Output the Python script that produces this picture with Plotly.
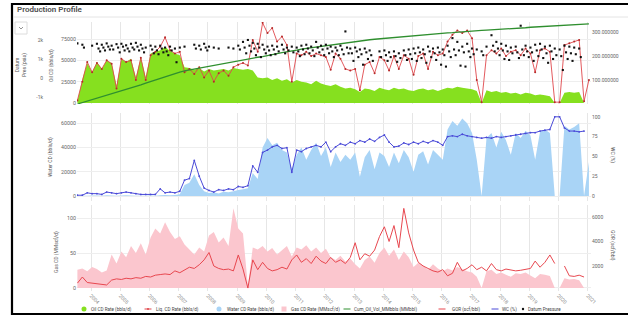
import pandas as pd
import plotly.graph_objects as go

W, H = 628, 316

# ---------------- data (2-monthly samples) ----------------
dates = pd.date_range("2003-07-01", periods=106, freq="2MS") + pd.Timedelta(days=14)

oil = [2000, 28000, 47000, 36000, 48000, 40000, 50000, 47000, 20000, 52000,
       48000, 52000, 30000, 54000, 30000, 58000, 60000, 62000, 66000, 61000,
       58000, 56000, 42000, 41000, 39000, 41000, 37000, 40000, 38000, 39000,
       40000, 38000, 41000, 40000, 39000, 40000, 38000, 30000, 29000, 30000,
       27000, 29000, 26000, 28000, 24000, 27000, 25000, 24000, 22000, 26000,
       23000, 21000, 20000, 22000, 19000, 17000, 18000, 16000, 13000, 17000,
       16000, 14000, 18000, 16000, 15000, 18000, 16000, 17000, 15000, 14000,
       16000, 17000, 15000, 16000, 14000, 16000, 18000, 17000, 19000, 18000,
       17000, 16000, 14000, 0, 15000, 13000, 14000, 12000, 13000, 11000,
       12000, 10000, 12000, 11000, 9000, 10000, 9000, 8000, 0, 0,
       12000, 13000, 12000, 13000, 0, 0]

liq = [3000, 25000, 48000, 36000, 47000, 40000, 50000, 46000, 17000, 52000,
       48000, 50000, 27000, 53000, 27000, 56000, 60000, 66000, 77000, 62000,
       58000, 60000, 36000, 40000, 34000, 42000, 30000, 38000, 25000, 35000,
       38000, 32000, 42000, 45000, 47000, 44000, 74000, 60000, 94000, 82000,
       88000, 72000, 78000, 68000, 25000, 58000, 56000, 60000, 55000, 58000,
       56000, 54000, 39000, 58000, 52000, 40000, 38000, 40000, 15000, 45000,
       48000, 35000, 54000, 50000, 38000, 55000, 40000, 56000, 52000, 33000,
       55000, 58000, 40000, 60000, 56000, 58000, 72000, 80000, 85000, 82000,
       85000, 76000, 27000, 1000, 56000, 62000, 58000, 64000, 55000, 60000,
       62000, 56000, 64000, 58000, 36000, 62000, 64000, 60000, 1000, 1000,
       68000, 70000, 72000, 74000, 2000, 27000]

cum_oil = [0, 6, 12, 18, 24, 30, 36, 43, 49, 55,
           61, 68, 74, 80, 87, 94, 101, 108, 115, 122,
           128, 133, 138, 142, 146, 150, 154, 158, 161, 165,
           168, 172, 175, 179, 183, 187, 191, 195, 198, 203,
           206, 210, 214, 217, 221, 225, 229, 232, 235, 238,
           241, 244, 247, 249, 252, 255, 258, 260, 263, 265,
           268, 270, 272, 274, 276, 278, 279, 281, 283, 285,
           287, 289, 291, 292, 294, 295, 297, 298, 300, 301,
           303, 304, 306, 307, 308, 309, 311, 312, 313, 315,
           316, 317, 318, 320, 321, 322, 323, 325, 326, 327,
           328, 330, 331, 332, 333, 334]

pres_hi = [1820, 1750, None, 1700, 1800, 1750, 1820, 1700, 1780, 1800,
           1720, 1800, 1850, 1750, 1600, 1700, 1650, 1700, 1600, 1650,
           1550, 1600, 1650, None, 1750, 1700, 1800, 1650, 1600, 1550,
           None, 1600, 1550, 1700, 1900, 2000, 1850, 1800, 1750, 1650,
           1700, 1650, 1750, 1600, 1650, 1600, 1700, 1750, 1650, 1900,
           1700, 1750, 1650, 1600, 1700, 2450, 1550, 1600, 1500, 1550,
           1450, None, 1400, 1450, 1350, 1400, 1300, 1450, 1500, 1550,
           1600, 1500, 1650, 1550, 1600, 1500, 1700, 2100, 1900, 1650,
           1800, 1550, 1500, 1400, 1650, 2250, 1900, 1800, 1700, 1600,
           1650, 2750, 1700, 1600, 1750, 1800, 1650, 1700, 1550, 1500,
           1700, 1650, 1600, 1550, None, None]

pres_mid = [None, 1600, None, None, 1550, 1600, 1650, 1500, 1600, 1650,
            1550, 1600, 1650, 1550, None, 1500, 1450, 1550, 1400, 1450,
            830, None, None, None, 1550, 1500, 1600, None, None, None,
            None, None, None, 1500, 1600, 1700, 1550, 1600, 1500, 1450,
            1500, 1400, 1500, 1450, 1350, 1400, 1500, 1550, 1450, 1600,
            1500, 1550, 1400, 1450, 1500, 1600, 1300, 1400, 1250, 1350,
            1200, None, 1100, 1200, 1100, 1150, 1050, 1200, 1250, 1300,
            1350, 1250, 1400, 1300, 1350, 1200, 1400, 1500, 1450, 1350,
            1400, 1250, None, 1200, None, 1700, 1550, 1450, 1400, 1300,
            1350, 1500, 1400, 1350, 1450, 1500, 1300, 1400, 1200, 1150,
            1350, 1300, 1250, 1100, None, None]

pres_lo = [None, None, None, None, 1400, 1450, 1500, None, 1350, 1450,
           1400, 1500, 1450, 1350, None, 1300, 1250, 1350, 1200, None,
           None, None, None, None, None, None, 1450, None, None, None,
           None, None, None, None, 1300, 1400, 1200, 1100, 1300, 1200,
           1250, None, 1300, None, None, 1150, 1250, 1300, 1150, 1350,
           1200, 1300, 1100, 1200, 1250, 1300, 900, 1100, 700, 1000,
           900, None, None, 900, None, 850, None, 950, 1000, 900,
           1050, 800, 1100, 950, 700, 600, 1100, 1200, 650, 600,
           1100, None, None, None, None, 1400, 1200, 1000, 950, None,
           1050, 1200, 1100, 900, 1150, 1050, 800, 1000, None, 420,
           1000, 900, None, None, None, None]

water = [0, 200, 300, 500, 400, 300, 600, 500, 300, 400,
         600, 500, 300, 200, 300, 400, 300, 600, 800, 700,
         900, 1500, 9000, 11000, 18000, 9000, 4000, 2500, 3000, 2000,
         3500, 3000, 4000, 5000, 5500, 6500, 19000, 14000, 40000, 48000,
         42000, 44000, 38000, 36000, 22000, 34000, 40000, 30000, 38000, 44000,
         33000, 40000, 24000, 36000, 28000, 34000, 30000, 36000, 16000, 32000,
         38000, 22000, 36000, 33000, 24000, 36000, 27000, 38000, 32000, 20000,
         34000, 37000, 26000, 38000, 34000, 30000, 55000, 62000, 58000, 64000,
         60000, 52000, 30000, 0, 48000, 52000, 40000, 53000, 46000, 34000,
         52000, 48000, 54000, 50000, 30000, 53000, 55000, 52000, 0, 0,
         58000, 55000, 57000, 60000, 0, 28000]

wc = [1, 1, 4, 3, 3, 2, 5, 4, 3, 4,
      5, 4, 3, 2, 2, 2, 2, 9, 4, 5,
      4, 6, 20, 22, 45, 25, 10, 7, 5, 8,
      7, 9, 8, 12, 11, 13, 38, 30, 55, 58,
      62, 64, 60, 61, 30, 58, 56, 60, 62, 64,
      62, 68, 56, 62, 66, 64, 68, 66, 70, 68,
      72, 69, 74, 77, 68, 62, 63, 67, 65, 68,
      66, 69, 67, 70, 68, 64, 75, 76, 75, 78,
      76, 75, 74, 73, 74, 73, 75, 74, 75, 76,
      77, 78, 79, 80, 80, 82, 83, 84, 100, 100,
      86, 82, 82, 81, 82, None]

gas = [26, 28, 24, 30, 27, 22, 25, 48, 35, 52,
       44, 60, 50, 64, 48, 72, 85, 78, 94, 80,
       70, 74, 62, 55, 48, 58, 52, 75, 80, 65,
       72, 60, 114, 85, 78, 3, 58, 55, 60, 52,
       57, 48, 54, 60, 45, 58, 55, 61, 52, 58,
       50, 56, 44, 40, 46, 38, 42, 34, 28, 40,
       45, 36, 50, 58, 46, 55, 40, 52, 44, 30,
       36, 32, 26, 34, 28, 24, 28, 25, 30, 27,
       24, 22, 16, 0, 24, 26, 20, 22, 19, 16,
       21, 20, 22, 18, 14, 20, 19, 17, 0, 0,
       14, 12, 13, 11, 0, 0]

gor = [600, 1100, 650, 600, 550, 500, 450, 850, 950, 900,
       1000, 950, 1050, 1000, 1150, 1100, 1250, 1300, 1350, 1300,
       1600, 1450, 1700, 1900, 1800, 2100, 2500, 3100, 2000, 1800,
       1700, 1750, 1600, 2900, 1750, 200, 2500, 1700, 2300, 1800,
       1600, 1700, 1900, 1750, 2500, 2900, 2300, 2600, 2200, 2800,
       2400, 2200, 2700, 2300, 2500, 2200, 2700, 3900, 2500, 3000,
       2800, 3300, 4400, 5200, 4000, 5300, 3500, 6700, 4700, 3300,
       2300, 2000, 1800, 1600, 1500, 1700, 1200, 1400, 2300, 1600,
       1800, 2100, 1700, 1900, 1600, 2200, 1700, 1600, 1750, 1650,
       1600, 1650, 1700, 1800, 2400, 1900, 2300, 2900, 2200, None,
       2000, 1200, 1150, 1250, 1100, None]

# ---------------- styling ----------------
C_OIL = "#86e01f"
C_LIQ = "#e0474c"
C_LIQ_M = "#b52a2a"
C_CUM = "#2f8f2f"
C_WAT = "#a9d4f6"
C_WC = "#4a4ad8"
C_GAS = "#fbc6ce"
C_GOR = "#e8474f"
FONT = "Roboto, Arial, sans-serif"
TICKC = "#666666"


def px(x):
    return x / W


def py(y):
    return 1 - y / H


xdom = [px(77), px(591)]
dom_top = [py(104), py(22)]
dom_mid = [py(201), py(113)]
dom_bot = [py(291), py(205)]

fig = go.Figure()

# top panel
fig.add_trace(go.Scatter(x=dates, y=oil, mode="none", fill="tozeroy", fillcolor=C_OIL,
                         xaxis="x", yaxis="y", name="Oil CD Rate (bbls/d)"))
fig.add_trace(go.Scatter(x=dates, y=liq, mode="lines+markers",
                         line=dict(color=C_LIQ, width=0.9),
                         marker=dict(size=2, color=C_LIQ_M),
                         xaxis="x", yaxis="y", name="Liq. CD Rate (bbls/d)"))
fig.add_trace(go.Scatter(x=dates, y=cum_oil, mode="lines", line=dict(color=C_CUM, width=1.3),
                         xaxis="x", yaxis="y4", name="Cum_Oil_Vol_MMbbls (MMbbl)"))
for vals, off in ((pres_hi, 0), (pres_mid, 20), (pres_lo, 40)):
    fig.add_trace(go.Scatter(x=dates + pd.Timedelta(days=off), y=vals, mode="markers",
                             marker=dict(size=2.1, color="#111111", symbol="square"),
                             xaxis="x", yaxis="y5", name="Datum Pressure"))

# middle panel
fig.add_trace(go.Scatter(x=dates, y=water, mode="none", fill="tozeroy", fillcolor=C_WAT,
                         xaxis="x2", yaxis="y2", name="Water CD Rate (bbls/d)"))
fig.add_trace(go.Scatter(x=dates, y=wc, mode="lines+markers", line=dict(color=C_WC, width=1),
                         marker=dict(size=1.8, color=C_WC),
                         xaxis="x2", yaxis="y6", name="WC (%)"))

# bottom panel
fig.add_trace(go.Scatter(x=dates, y=gas, mode="none", fill="tozeroy", fillcolor=C_GAS,
                         xaxis="x3", yaxis="y3", name="Gas CD Rate (MMscf/d)"))
fig.add_trace(go.Scatter(x=dates, y=gor, mode="lines", line=dict(color=C_GOR, width=1),
                         connectgaps=False,
                         xaxis="x3", yaxis="y7", name="GOR (scf/bbl)"))

xrange = ["2003-07-10", "2021-02-10"]
tf = dict(size=5, color="#888", family=FONT)
xcommon = dict(domain=xdom, range=xrange, type="date", showgrid=True, gridcolor="#e6e6e6",
               gridwidth=1, dtick="M12", tick0="2004-01-01", zeroline=False, showline=False,
               automargin=False, ticks="", tickfont=tf)
ycommon = dict(showgrid=True, gridcolor="#eeeeee", zeroline=False, showline=False,
               automargin=False, ticks="", tickfont=dict(size=5.3, color=TICKC, family=FONT))
yright = dict(showgrid=False, zeroline=False, showline=False, automargin=False, ticks="",
              tickfont=dict(size=5, color=TICKC, family=FONT))

fig.update_layout(
    width=W, height=H, template="none", showlegend=False,
    margin=dict(l=0, r=0, t=0, b=0),
    paper_bgcolor="white", plot_bgcolor="white",
    font=dict(family=FONT, size=5, color="#555"),
    xaxis=dict(**xcommon, anchor="y", showticklabels=False),
    xaxis2=dict(**xcommon, anchor="y2", matches="x", showticklabels=False),
    xaxis3=dict(**xcommon, anchor="y3", matches="x", showticklabels=True,
                tickangle=45, tickformat="%Y"),
    yaxis=dict(**ycommon, domain=dom_top, anchor="x", range=[-1170, 95000],
               tickvals=[0, 25000, 50000, 75000], ticktext=["0", "25000", "50000", "75000"]),
    yaxis5=dict(**yright, overlaying="y", side="left", anchor="free", position=px(43),
                range=[-1368, 2946], tickvals=[-1000, 0, 1000, 2000],
                ticktext=["-1k", "0", "1k", "2k"]),
    yaxis4=dict(**yright, overlaying="y", side="right", anchor="x", range=[0, 342],
                tickvals=[100, 200, 300], tickformat=".6f"),
    yaxis2=dict(**ycommon, domain=dom_mid, anchor="x2", range=[-4130, 68560],
                tickvals=[0, 20000, 40000, 60000], ticktext=["0", "20000", "40000", "60000"]),
    yaxis6=dict(**yright, overlaying="y2", side="right", anchor="x2", range=[-6.3, 104.8],
                tickvals=[0, 25, 50, 75, 100]),
    yaxis3=dict(**ycommon, domain=dom_bot, anchor="x3", range=[-4.3, 118.6],
                tickvals=[0, 50, 100]),
    yaxis7=dict(**yright, overlaying="y3", side="right", anchor="x3", range=[-41, 6977],
                tickvals=[2000, 4000, 6000]),
)

ann = []


def text(x, y, s, size=5, color="#555", angle=0, xanchor="center", weight=None):
    f = dict(size=size, color=color, family=FONT)
    if weight:
        f["weight"] = weight
    ann.append(dict(x=px(x), y=py(y), xref="paper", yref="paper", text=s, showarrow=False,
                    textangle=angle, xanchor=xanchor, yanchor="middle", font=f))


text(15, 9.5, "Production Profile", size=8, color="#4d4d4d", xanchor="left", weight=600)
text(21, 65, "Datum<br>Pres (psia)", angle=-90)
text(51, 66, "Oil CD (bbls/d)", angle=-90)
text(50, 157, "Water CD (bbls/d)", angle=-90)
text(612, 155, "WC (%)", angle=90)
text(56, 252, "Gas CD (MMscf/d)", angle=-90)
text(613, 245, "GOR (scf/bbl)", angle=90)

shapes = []
# frame
shapes.append(dict(type="line", xref="paper", yref="paper", x0=px(12), x1=px(640), y0=py(4), y1=py(4),
                   line=dict(color="black", width=2.2)))
shapes.append(dict(type="line", xref="paper", yref="paper", x0=px(12), x1=px(12), y0=py(3), y1=py(315),
                   line=dict(color="black", width=2.2)))
shapes.append(dict(type="line", xref="paper", yref="paper", x0=px(12), x1=px(640), y0=py(314), y1=py(314),
                   line=dict(color="black", width=2.2)))
shapes.append(dict(type="line", xref="paper", yref="paper", x0=px(13), x1=px(628), y0=py(17), y1=py(17),
                   line=dict(color="#e4e4e4", width=1)))
# dropdown button
shapes.append(dict(type="rect", xref="paper", yref="paper", x0=px(15), x1=px(27), y0=py(34), y1=py(22),
                   line=dict(color="#dcdcdc", width=1), fillcolor="white"))
shapes.append(dict(type="path", xref="paper", yref="paper",
                   path=f"M {px(19)},{py(27)} L {px(21)},{py(29)} L {px(23)},{py(27)}",
                   line=dict(color="#777", width=0.8)))

# legend
LY = 309
legend_items = [
    ("circle", C_OIL, 84, "Oil CD Rate (bbls/d)", 89),
    ("linedot", C_LIQ, 148, "Liq. CD Rate (bbls/d)", 154),
    ("circle", C_WAT, 219, "Water CD Rate (bbls/d)", 225),
    ("square", C_GAS, 284, "Gas CD Rate (MMscf/d)", 289),
    ("line", C_CUM, 347, "Cum_Oil_Vol_MMbbls (MMbbl)", 352),
    ("line", C_GOR, 442, "GOR (scf/bbl)", 450),
    ("line", C_WC, 495, "WC (%)", 500),
    ("dot", "#111", 523, "Datum Pressure", 526),
]
for kind, col, sx, label, tx in legend_items:
    if kind == "circle":
        shapes.append(dict(type="circle", xref="paper", yref="paper", x0=px(sx - 2.5), x1=px(sx + 2.5),
                           y0=py(LY + 2.5), y1=py(LY - 2.5), fillcolor=col, line=dict(width=0)))
    elif kind == "square":
        shapes.append(dict(type="rect", xref="paper", yref="paper", x0=px(sx - 2.5), x1=px(sx + 2.5),
                           y0=py(LY + 2.5), y1=py(LY - 2.5), fillcolor=col, line=dict(width=0)))
    elif kind == "dot":
        shapes.append(dict(type="circle", xref="paper", yref="paper", x0=px(sx - 1.2), x1=px(sx + 1.2),
                           y0=py(LY + 1.2), y1=py(LY - 1.2), fillcolor=col, line=dict(width=0)))
    else:
        shapes.append(dict(type="line", xref="paper", yref="paper", x0=px(sx - 3.5), x1=px(sx + 3.5),
                           y0=py(LY), y1=py(LY), line=dict(color=col, width=1)))
        if kind == "linedot":
            shapes.append(dict(type="circle", xref="paper", yref="paper", x0=px(sx - 1), x1=px(sx + 1),
                               y0=py(LY + 1), y1=py(LY - 1), fillcolor=col, line=dict(width=0)))
    text(tx, LY, label, size=4.6, color="#444", xanchor="left")

fig.update_layout(annotations=ann, shapes=shapes)

fig.write_html("out.html", config={"displayModeBar": False},
               post_script="document.body.style.margin='0';document.body.style.padding='0';"
                           "document.body.style.overflow='hidden';")
